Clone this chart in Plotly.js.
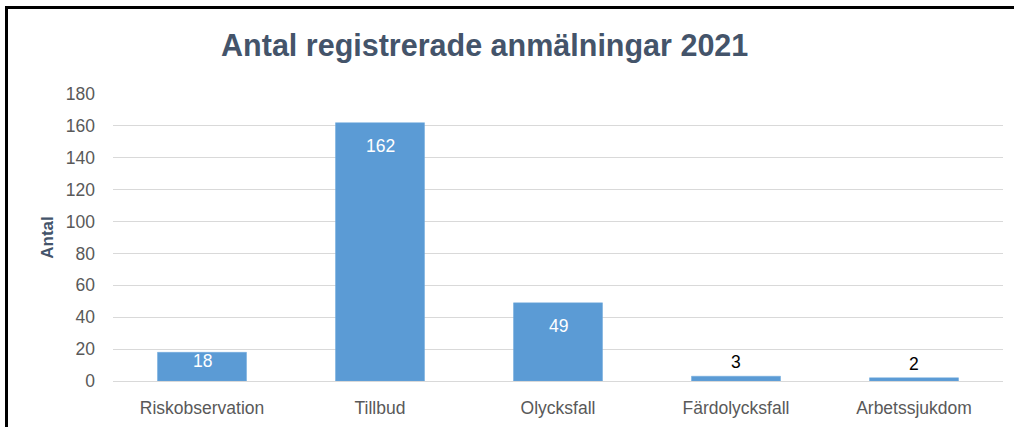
<!DOCTYPE html>
<html><head><meta charset="utf-8">
<script src="https://cdn.plot.ly/plotly-3.0.1.min.js"></script>
<style>
body{margin:0;padding:0;background:#fff;}
#wrap{position:relative;width:1014px;height:427px;}
#chart{position:absolute;left:0;top:0;width:1014px;height:427px;}
#frame{position:absolute;left:5px;top:6px;width:1020px;height:440px;border-top:3px solid #000;border-left:3px solid #000;pointer-events:none;}
</style></head>
<body><div id="wrap"><div id="chart"></div><div id="frame"></div></div>
<script>
const categories = ["Riskobservation","Tillbud","Olycksfall","Färdolycksfall","Arbetssjukdom"];
const values = [18,162,49,3,2];
const yTicks = [0,20,40,60,80,100,120,140,160,180];

const F = "Liberation Sans, Arial, sans-serif";
const trace = {
  type:'bar', x:categories, y:values,
  marker:{color:'#5B9BD5', line:{color:'#6FA8DC', width:0.5}},
  hoverinfo:'skip'
};
// data labels: inside-end for larger bars, above for tiny bars
const annotations = values.map((v, i) => {
  const inside = v > 10;
  return {
    x: categories[i], y: v, xref:'x', yref:'y', showarrow:false,
    text: String(v), yanchor:'middle', xanchor:'center',
    yshift: inside ? (v > 30 ? -23 : -9) : 14,
    font:{family:F, size:17.5, color: inside ? '#ffffff' : '#000000'}
  };
});
const layout = {
  width:1014, height:427,
  margin:{l:113, r:11, t:94, b:46},
  paper_bgcolor:'#ffffff', plot_bgcolor:'#ffffff',
  bargap:0.5,
  showlegend:false,
  annotations: annotations,
  title:{text:'<b>Antal registrerade anmälningar 2021</b>', x:0.478, xanchor:'center', y:0.893, yanchor:'middle', font:{family:F, size:30.5, color:'#44546A'}},
  xaxis:{tickfont:{family:F, size:17.5, color:'#595959'}, showgrid:false, showline:false, ticks:'', ticklabelstandoff:14},
  yaxis:{range:[0,180], tickvals:yTicks, ticktext:yTicks.map(String), tickfont:{family:F, size:17.5, color:'#595959'},
    gridcolor:'#D9D9D9', gridwidth:1, zeroline:true, zerolinecolor:'#D9D9D9', zerolinewidth:1, showline:false, ticks:'', ticklabelstandoff:17,
    title:{text:'<b>Antal</b>', font:{family:F, size:17, color:'#44546A'}, standoff:7}}
};
Plotly.newPlot('chart',[trace],layout,{displayModeBar:false, staticPlot:true});
</script></body></html>
